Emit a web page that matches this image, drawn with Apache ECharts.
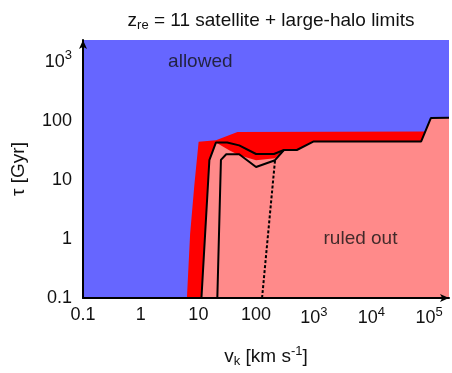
<!DOCTYPE html>
<html>
<head>
<meta charset="utf-8">
<script src="https://cdn.jsdelivr.net/npm/echarts@6/dist/echarts.min.js"></script>
<style>
html, body { margin: 0; padding: 0; background: #fff; }
#chart { width: 452px; height: 373px; }
</style>
</head>
<body>
<div id="chart"></div>
<script>
// axis ranges (real units) and tick exponents
var xRange = [0.1, 221000];
var yRange = [0.1, 2330];
var xTickExp = [-1, 0, 1, 2, 3, 4, 5];
var yTickExp = [-1, 0, 1, 2, 3];

// upper edge of the red (weaker limit) region, [v_k, tau]
var redEdge = [[6.33, 0.1], [7.19, 1.21], [8.53, 8.35], [10.1, 44.2], [20.2, 46.9], [47.6, 64.8],
  [85300, 65.6], [107000, 111], [221000, 112]];
// upper edge of the pink "ruled out" region
var pinkEdge = [[11.3, 0.1], [15.5, 21.5], [20.2, 43], [34.2, 31.6], [51, 26.1], [100, 21.5],
  [213, 23.3], [304, 32], [509, 32], [1000, 44.7], [72800, 44.7], [107000, 111], [221000, 112]];
// black limit curves
var outerLimit = [[11.3, 0.1], [15.5, 21.5], [20.2, 43], [31.6, 43], [51, 38.3], [100, 27.4],
  [204, 27.4], [304, 32], [509, 32], [1000, 44.7], [72800, 44.7], [107000, 111], [221000, 112]];
var innerLimit = [[21.3, 0.1], [24.6, 21.8], [30.4, 27.1], [51, 27.1], [100, 16.5], [213, 21.5], [304, 32]];
var dashedLimit = [[127, 0.1], [213, 21.5]];
// region labels
var notes = [['allowed', 10.8, 1000], ['ruled out', 6460, 1]];

function lg(v) { return Math.log(v) / Math.LN10; }
function toLog(arr) {
  return arr.map(function (p) { return [lg(p[0]), lg(p[1])]; });
}
function tickText(e) {
  if (Math.abs(e - Math.round(e)) > 1e-6) return '';
  e = Math.round(e);
  if (xTickExp.indexOf(e) < 0 && yTickExp.indexOf(e) < 0) return '';
  if (e < 0) return '0.1';
  if (e < 3) return String(Math.pow(10, e));
  return '10{sup|' + e + '}';
}

var font = '"Liberation Sans", Arial, Helvetica, sans-serif';
var chart = echarts.init(document.getElementById('chart'));

function areaSeries(data, color, z) {
  return {
    type: 'line',
    data: toLog(data),
    showSymbol: false,
    silent: true,
    z: z,
    lineStyle: { width: 0 },
    areaStyle: { color: color, opacity: 1, origin: 'start' }
  };
}
function limitSeries(data, dashed) {
  return {
    type: 'line',
    data: toLog(data),
    showSymbol: false,
    silent: true,
    z: 5,
    lineStyle: { color: '#000', width: 2, type: dashed ? [3, 2] : 'solid' }
  };
}

chart.setOption({
  animation: false,
  title: {
    text: '{a|z}{s|re}{a| = 11 satellite + large-halo limits}',
    left: 266,
    textAlign: 'center',
    top: 4,
    textStyle: {
      fontFamily: font,
      fontWeight: 'normal',
      rich: {
        a: { fontSize: 19, color: '#111', fontFamily: font },
        s: { fontSize: 13, color: '#111', fontFamily: font, padding: [10, 0, 0, 0] }
      }
    }
  },
  grid: {
    left: 83, right: 1, top: 40, bottom: 71,
    show: true, backgroundColor: '#6666ff', borderWidth: 0
  },
  xAxis: {
    type: 'value',
    min: lg(xRange[0]), max: lg(xRange[1]), interval: 1,
    name: '{a|v}{s|k}{a| [km s}{p|-1}{a|]}',
    nameLocation: 'middle',
    nameGap: 47,
    nameTextStyle: {
      fontFamily: font,
      rich: {
        a: { fontSize: 19, color: '#111', fontFamily: font },
        s: { fontSize: 13, color: '#111', fontFamily: font, padding: [10, 0, 0, 0] },
        p: { fontSize: 13, color: '#111', fontFamily: font, padding: [0, 0, 10, 0] }
      }
    },
    axisLine: { onZero: false, lineStyle: { color: '#000', width: 2 }, symbol: ['none', 'arrow'], symbolSize: [6, 9] },
    axisTick: { show: false },
    splitLine: { show: false },
    axisLabel: {
      margin: 8,
      color: '#111',
      fontFamily: font,
      fontSize: 18,
      formatter: tickText,
      rich: { sup: { fontSize: 13, color: '#111', fontFamily: font, padding: [0, 0, 12, 0] } }
    },
    z: 10
  },
  yAxis: {
    type: 'value',
    min: lg(yRange[0]), max: lg(yRange[1]), interval: 1,
    name: '\u03c4 [Gyr]',
    nameLocation: 'middle',
    nameGap: 55,
    nameTextStyle: { fontFamily: font, fontSize: 19, color: '#111' },
    axisLine: { onZero: false, lineStyle: { color: '#000', width: 2 }, symbol: ['none', 'arrow'], symbolSize: [6, 9] },
    axisTick: { show: false },
    splitLine: { show: false },
    axisLabel: {
      margin: 11,
      color: '#111',
      fontFamily: font,
      fontSize: 18,
      formatter: tickText,
      rich: { sup: { fontSize: 13, color: '#111', fontFamily: font, padding: [0, 0, 12, 0] } }
    },
    z: 10
  },
  series: [
    areaSeries(redEdge, '#ff0000', 1),
    areaSeries(pinkEdge, '#ff8a8a', 2),
    limitSeries(outerLimit, false),
    limitSeries(innerLimit, false),
    limitSeries(dashedLimit, true),
    {
      type: 'scatter',
      silent: true,
      symbolSize: 0,
      z: 6,
      data: notes.map(function (n) { return { value: [lg(n[1]), lg(n[2])], name: n[0] }; }),
      label: {
        show: true,
        position: 'inside',
        formatter: '{b}',
        color: '#111',
        fontFamily: font,
        fontSize: 19
      }
    }
  ]
});
</script>
</body>
</html>
